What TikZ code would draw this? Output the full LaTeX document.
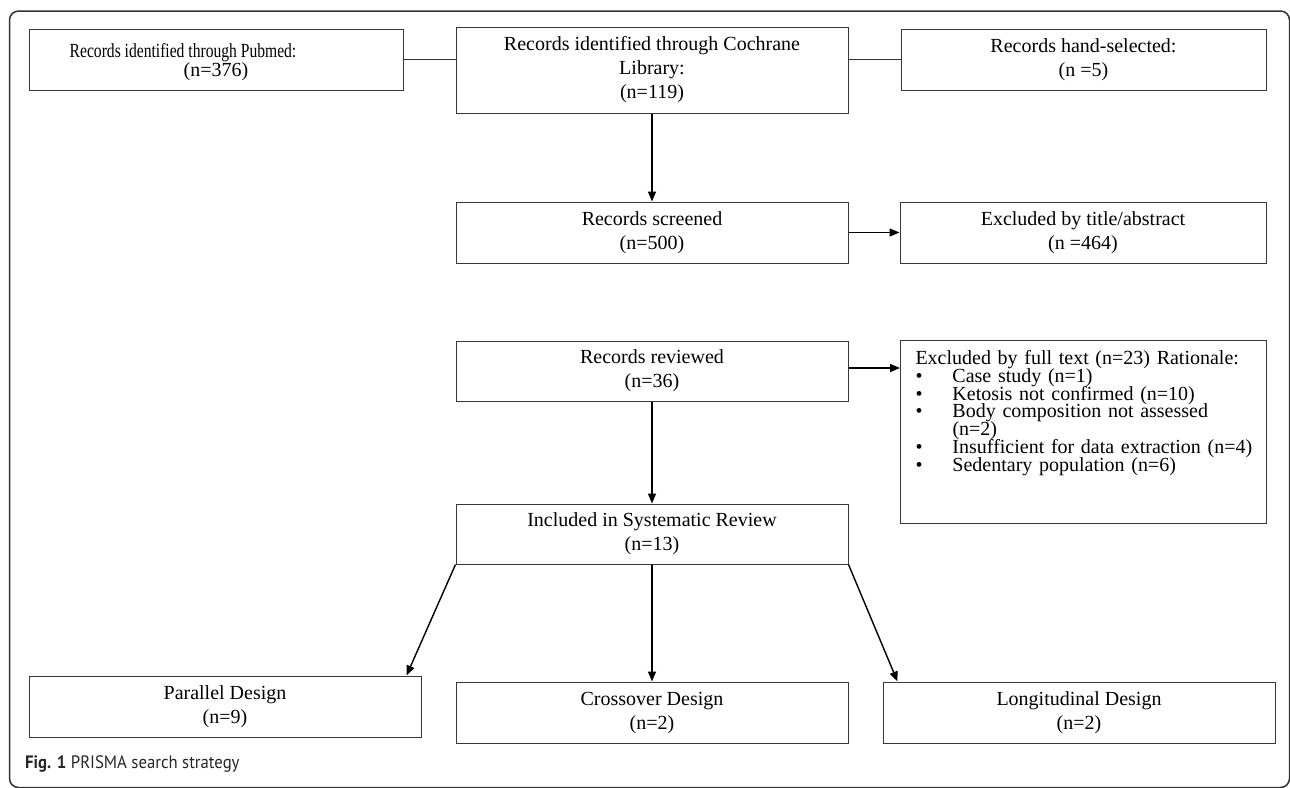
\documentclass[tikz,border=0pt]{standalone}
\usepackage{fontspec}
\setmainfont{Liberation Serif}
\newfontfamily\narrowserif{Liberation Serif}[FakeStretch=0.78]
\newfontfamily\capfont{PT Sans}[FakeStretch=0.93]
\newcommand\tightlines{\lineskiplimit=-20pt\relax\lineskip=0pt\relax}
\newcommand\bul{\makebox[37pt][l]{\textbullet}}
\usetikzlibrary{arrows.meta,calc}
\begin{document}
\begin{tikzpicture}[x=1pt,y=-1pt,
  box/.style={draw=black!78, line width=1pt, inner sep=0pt, align=center,
    font=\fontsize{20}{24}\selectfont, text=black},
  link/.style={draw=black!80, line width=1pt},
  arr/.style={draw=black, line width=1.4pt, -{Triangle[length=10pt,width=8pt]}},
]
\useasboundingbox (0,0) rectangle (1290,787);
\draw[black!80, line width=1.5pt, rounded corners=9pt] (9.5,11) rectangle (1289.5,787.5);

\node[box, minimum width=374pt, minimum height=61pt, font=\fontsize{20}{19}\selectfont] (pub) at (216,59.5)
  {\rule{0pt}{20pt}{\narrowserif Records identified through Pubmed:}\hspace*{66pt}\\(n=376)};
\node[box, minimum width=392pt, minimum height=86pt] (coch) at (652,70)
  {Records identified through Cochrane\\Library:\\(n=119)};
\node[box, minimum width=365pt, minimum height=61pt] (hand) at (1083.5,59.5)
  {Records hand-selected:\\(n =5)};
\node[box, minimum width=392pt, minimum height=61pt] (scr) at (652,232.5)
  {Records screened\\(n=500)};
\node[box, minimum width=366pt, minimum height=61pt] (extitle) at (1083,232.5)
  {Excluded by title/abstract\\(n =464)};
\node[box, minimum width=392pt, minimum height=60pt] (rev) at (652,371)
  {Records reviewed\\(n=36)};
\node[box, anchor=north west, align=left, inner xsep=15pt, inner ysep=0pt,
  text width=336pt, text height=24pt, text depth=159pt,
  font=\fontsize{20}{17.8}\selectfont\tightlines] (exfull) at (900,340)
  {\mbox{Excluded by full text (n=23) Rationale:}\\
  \bul\mbox{Case study (n=1)}\\
  \bul\mbox{Ketosis not confirmed (n=10)}\\
  \bul\mbox{Body composition not assessed}\\
  \hspace*{37pt}(n=2)\\
  \bul\mbox{Insufficient for data extraction (n=4)}\\
  \bul\mbox{Sedentary population (n=6)}};
\node[box, minimum width=392pt, minimum height=60pt] (incl) at (652,534)
  {Included in Systematic Review\\(n=13)};
\node[box, minimum width=392pt, minimum height=61pt] (par) at (225,706.5)
  {Parallel Design\\(n=9)};
\node[box, minimum width=392pt, minimum height=61pt] (cross) at (652,712.5)
  {Crossover Design\\(n=2)};
\node[box, minimum width=392pt, minimum height=61pt] (long) at (1079,712.5)
  {Longitudinal Design\\(n=2)};

\draw[link] (pub.east) -- (pub.east -| coch.west);
\draw[link] (hand.west -| coch.east) -- (hand.west);
\draw[arr] (coch.south) -- (scr.north);
\draw[arr] (scr.east) -- (extitle.west);
\draw[arr] ([yshift=3pt]rev.east) -- ([yshift=3pt]rev.east -| exfull.west);
\draw[arr] (rev.south) -- (incl.north);
\draw[arr] (incl.south west) -- ([xshift=-15pt]par.north east);
\draw[arr] (incl.south) -- (cross.north);
\draw[arr] (incl.south east) -- ([xshift=15pt]long.north west);

\node[anchor=base west, inner sep=0pt, font=\capfont\fontsize{18}{20}\selectfont, text=black!85] (cap) at (25,768)
  {\textbf{Fig. 1} PRISMA search strategy};
\end{tikzpicture}
\end{document}
